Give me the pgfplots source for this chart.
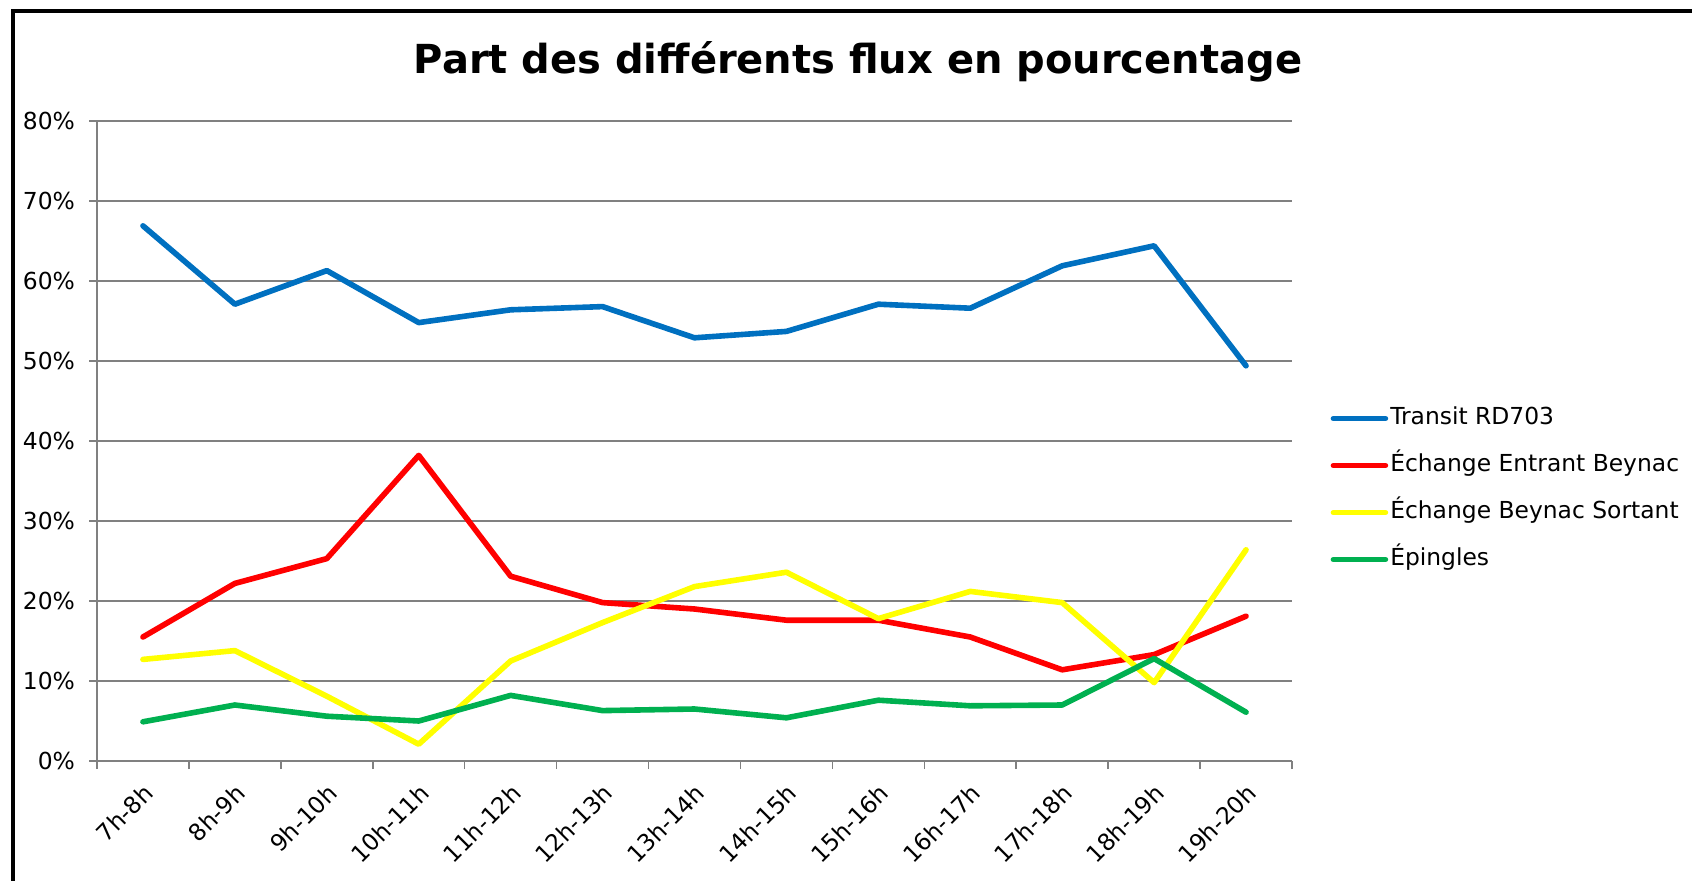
\documentclass[border=0pt]{standalone}
\usepackage{pgfplots}
\pgfplotsset{compat=1.18}
\usepackage{fontspec}
\setmainfont{DejaVu Sans}
\definecolor{cblue}{HTML}{0070C0}
\definecolor{cred}{HTML}{FF0000}
\definecolor{cyel}{HTML}{FFFF00}
\definecolor{cgreen}{HTML}{00B050}
\definecolor{gridc}{HTML}{808080}
\begin{document}
\begin{tikzpicture}[x=1pt,y=1pt]
\useasboundingbox (0,0) rectangle (846,440);
\draw[black,line width=2.2pt] (6.5,-20) -- (6.5,434.5) -- (900,434.5);
\node[font=\bfseries\fontsize{20}{24}\selectfont] at (429,409) {Part des différents flux en pourcentage};
\begin{axis}[
  at={(48.5pt,59.5pt)}, anchor=south west,
  scale only axis, width=597.5pt, height=320pt,
  xmin=-0.5, xmax=12.5, ymin=0, ymax=80,
  axis x line=bottom, axis y line=left,
  axis line style={gridc, line width=0.8pt, -},
  xtick={0,...,12},
  xticklabels={7h-8h,8h-9h,9h-10h,10h-11h,11h-12h,12h-13h,13h-14h,14h-15h,15h-16h,16h-17h,17h-18h,18h-19h,19h-20h},
  minor xtick={-0.5,0.5,...,12.5},
  ytick={0,10,...,80},
  yticklabel={\pgfmathprintnumber{\tick}\%},
  /pgf/number format/assume math mode=true,
  tick align=outside,
  major x tick style={draw=none},
  minor tick length=4pt, major tick length=4pt,
  tick style={gridc, line width=0.8pt},
  ymajorgrids, grid style={gridc, line width=0.8pt},
  ticklabel style={font=\fontsize{11.7}{14}\selectfont},
  yticklabel style={xshift=-3.5pt},
  xticklabel style={rotate=45, anchor=east, yshift=-9pt, xshift=-1.5pt},
  legend style={at={(1.032,0.556)}, anchor=north west, draw=none, fill=none,
    font=\fontsize{11.7}{14}\selectfont, row sep=10.5pt, inner sep=0pt,
    nodes={inner sep=1pt, text height=8.5pt, text depth=2.5pt}},
  legend cell align=left,
  legend image code/.code={\draw[#1, line width=2.8pt, line cap=round] (0pt,0pt) -- (26pt,0pt);},
  every axis plot/.append style={line width=2.8pt, line join=round, line cap=round, mark=none},
]
\addplot[cblue] coordinates {(0,66.9) (1,57.1) (2,61.3) (3,54.8) (4,56.4) (5,56.8) (6,52.9) (7,53.7) (8,57.1) (9,56.6) (10,61.9) (11,64.4) (12,49.4)};
\addlegendentry{Transit RD703}
\addplot[cred] coordinates {(0,15.5) (1,22.2) (2,25.3) (3,38.2) (4,23.1) (5,19.8) (6,19.0) (7,17.6) (8,17.6) (9,15.5) (10,11.4) (11,13.3) (12,18.1)};
\addlegendentry{Échange Entrant Beynac}
\addplot[cyel] coordinates {(0,12.7) (1,13.8) (2,8.1) (3,2.1) (4,12.5) (5,17.3) (6,21.8) (7,23.6) (8,17.8) (9,21.2) (10,19.8) (11,9.8) (12,26.4)};
\addlegendentry{Échange Beynac Sortant}
\addplot[cgreen] coordinates {(0,4.9) (1,7.0) (2,5.6) (3,5.0) (4,8.2) (5,6.3) (6,6.5) (7,5.4) (8,7.6) (9,6.9) (10,7.0) (11,12.8) (12,6.1)};
\addlegendentry{Épingles}
\end{axis}
\end{tikzpicture}
\end{document}
